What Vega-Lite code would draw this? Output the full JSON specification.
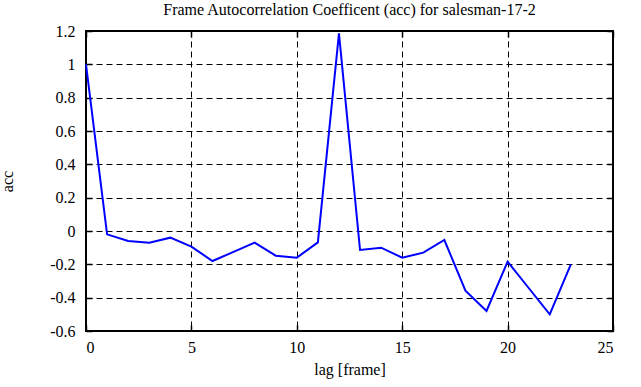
{
  "$schema": "https://vega.github.io/schema/vega-lite/v6.json",
  "autosize": "none",
  "width": 527,
  "height": 300,
  "padding": {"left": 86, "top": 31, "right": 28, "bottom": 56},
  "background": "white",
  "config": {
    "font": "Liberation Serif",
    "view": {"stroke": "black", "strokeWidth": 2},
    "style": {"guide-label": {"font": "Liberation Serif", "fontSize": 16, "fill": "black"}, "guide-title": {"font": "Liberation Serif", "fontSize": 16, "fill": "black"}},
    "axis": {"labelFont": "Liberation Serif", "titleFont": "Liberation Serif", "labelFontSize": 16, "titleFontSize": 16, "titleFontWeight": "normal", "labelColor": "black", "titleColor": "black"}
  },
  "title": {"text": "Frame Autocorrelation Coefficent (acc) for salesman-17-2", "font": "Liberation Serif", "fontSize": 16, "fontWeight": "normal", "color": "black", "anchor": "middle", "offset": 5},
  "data": {"values": [
    {"lag": 0, "acc": 1.0},
    {"lag": 1, "acc": -0.02},
    {"lag": 2, "acc": -0.06},
    {"lag": 3, "acc": -0.07},
    {"lag": 4, "acc": -0.04},
    {"lag": 5, "acc": -0.094},
    {"lag": 6, "acc": -0.18},
    {"lag": 7, "acc": -0.125},
    {"lag": 8, "acc": -0.07},
    {"lag": 9, "acc": -0.148},
    {"lag": 10, "acc": -0.16},
    {"lag": 11, "acc": -0.068},
    {"lag": 12, "acc": 1.186},
    {"lag": 13, "acc": -0.114},
    {"lag": 14, "acc": -0.1},
    {"lag": 15, "acc": -0.16},
    {"lag": 16, "acc": -0.13},
    {"lag": 17, "acc": -0.054},
    {"lag": 18, "acc": -0.358},
    {"lag": 19, "acc": -0.48},
    {"lag": 20, "acc": -0.184},
    {"lag": 21, "acc": -0.342},
    {"lag": 22, "acc": -0.5},
    {"lag": 23, "acc": -0.2}
  ]},
  "layer": [
    {
      "mark": {"type": "line", "color": "#0000ff", "strokeWidth": 2},
      "encoding": {
        "x": {"field": "lag", "type": "quantitative", "scale": {"domain": [0, 25], "nice": false},
          "axis": {"title": "lag [frame]", "values": [0, 5, 10, 15, 20, 25], "labelFont": "Liberation Serif", "labelFontSize": 16, "titleFont": "Liberation Serif", "titleFontSize": 16, "domain": false, "tickSize": -6, "tickColor": "black", "tickWidth": 1.5, "labelPadding": 14, "titlePadding": 6,
            "grid": true, "gridColor": "black", "gridDash": [6, 4], "gridWidth": 1, "gridOpacity": 1}},
        "y": {"field": "acc", "type": "quantitative", "scale": {"domain": [-0.6, 1.2], "nice": false, "zero": false},
          "axis": {"title": "acc", "values": [-0.6, -0.4, -0.2, 0, 0.2, 0.4, 0.6, 0.8, 1.0, 1.2], "labelExpr": "'' + round(datum.value*10)/10", "labelFont": "Liberation Serif", "labelFontSize": 16, "titleFont": "Liberation Serif", "titleFontSize": 16, "domain": false, "tickSize": -6, "tickColor": "black", "tickWidth": 1.5, "labelPadding": 17, "titleX": -71, "titleY": 150,
            "grid": true, "gridColor": "black", "gridDash": [6, 4], "gridWidth": 1, "gridOpacity": 1}}
      }
    },
    {
      "mark": {"type": "line", "opacity": 0},
      "encoding": {
        "x": {"field": "lag", "type": "quantitative", "scale": {"domain": [0, 25], "nice": false},
          "axis": {"orient": "top", "title": null, "labels": false, "values": [0, 5, 10, 15, 20, 25], "domain": false, "grid": false, "tickSize": -6, "tickColor": "black", "tickWidth": 1.5}},
        "y": {"field": "acc", "type": "quantitative", "scale": {"domain": [-0.6, 1.2], "nice": false, "zero": false},
          "axis": {"orient": "right", "title": null, "labels": false, "values": [-0.6, -0.4, -0.2, 0, 0.2, 0.4, 0.6, 0.8, 1.0, 1.2], "domain": false, "grid": false, "tickSize": -6, "tickColor": "black", "tickWidth": 1.5}}
      }
    }
  ],
  "resolve": {"axis": {"x": "independent", "y": "independent"}}
}
